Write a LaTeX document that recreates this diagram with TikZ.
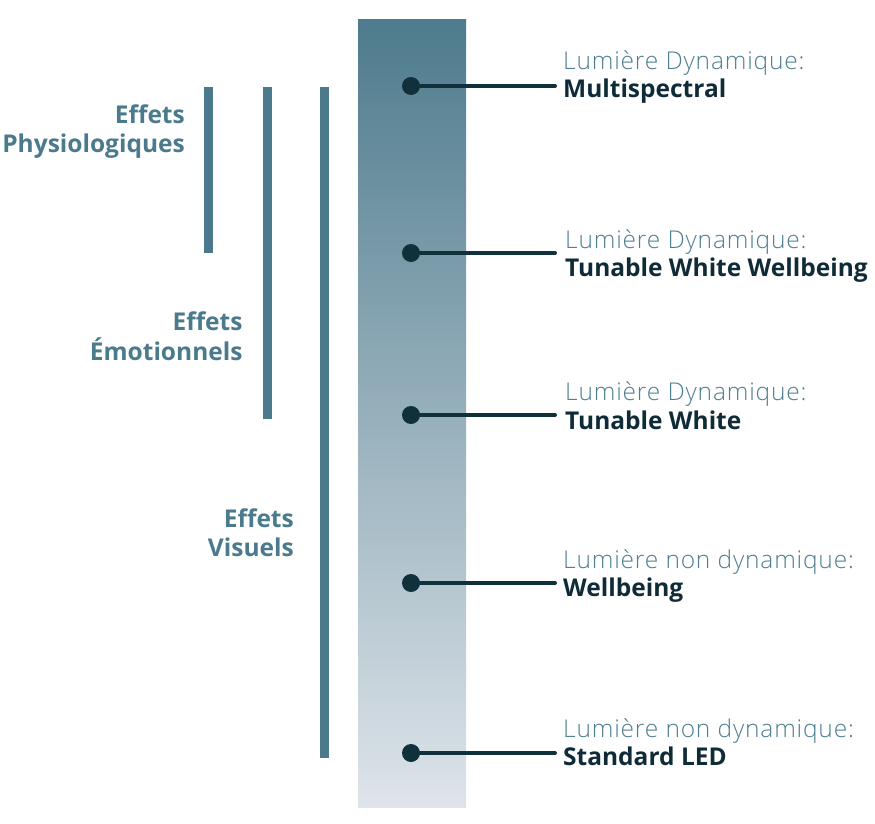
\documentclass[tikz,border=0pt]{standalone}
\usepackage{fontspec}
\setmainfont{Open Sans}
\newfontfamily\kindfont[LetterSpace=3.4]{Open Sans Light}
\definecolor{barblue}{HTML}{4A7A8C}
\definecolor{gradtop}{HTML}{4E7B8D}
\definecolor{gradbot}{HTML}{DEE4EA}
\definecolor{pindark}{HTML}{10303C}
\definecolor{kindcol}{HTML}{4F7F92}
\definecolor{namecol}{HTML}{0F2B37}
\tikzset{
  effbar/.style={fill=barblue},
  pin/.style={circle, fill=pindark, inner sep=0pt, minimum size=18pt},
  pinline/.style={draw=pindark, line width=4pt, line cap=round},
  kindlbl/.style={anchor=base west, inner sep=0pt, text=kindcol,
    font=\kindfont\fontsize{24.5}{28}\selectfont},
  namelbl/.style={anchor=base west, inner sep=0pt, text=namecol,
    font=\fontsize{24.5}{28}\selectfont\bfseries},
  efflbl/.style={anchor=base east, inner sep=0pt, text=barblue,
    font=\fontsize{24.5}{28}\selectfont\bfseries}
}
\begin{document}
\begin{tikzpicture}[x=1pt,y=-1pt]
    \useasboundingbox (0,0) rectangle (875,824);
    % light column
    \shade[top color=gradtop, bottom color=gradbot] (358,20) rectangle (466,807);
    % effect ranges
    \fill[effbar] (204,87) rectangle (213,253);
    \fill[effbar] (263,87) rectangle (272,419);
    \fill[effbar] (320,87) rectangle (329,758);
    \node (ef1) at (185,124) [efflbl] {Effets}; \node (ph1) at (185,152.7)
    [efflbl] {Physiologiques}; \node (ef2) at (242.7,330.7) [efflbl]
    {Effets}; \node (em2) at (242.7,360) [efflbl] {Émotionnels};
    \node (ef3) at (294,527.3) [efflbl] {Effets}; \node (vi3) at
    (294,556.7) [efflbl] {Visuels};
    % pins
    \node (p1) at (411,86) [pin] {}; \coordinate (e1) at (555,86);
    \node (p2) at (411,253) [pin] {}; \coordinate (e2) at (555,253);
    \node (p3) at (411,415) [pin] {}; \coordinate (e3) at (555,415);
    \node (p4) at (411,583) [pin] {}; \coordinate (e4) at (555,583);
    \node (p5) at (411,753) [pin] {}; \coordinate (e5) at (555,753);
    \draw[pinline] (p1) -- (e1); \draw[pinline] (p2) -- (e2);
    \draw[pinline] (p3) -- (e3); \draw[pinline] (p4) -- (e4);
    \draw[pinline] (p5) -- (e5);
    % labels
    \node (k1) at (563,70) [kindlbl] {Lumière Dynamique:};
    \node (n1) at (563,97.7) [namelbl] {Multispectral};
    \node (k2) at (565,248.3) [kindlbl] {Lumière Dynamique:};
    \node (n2) at (565,276.7) [namelbl] {Tunable White Wellbeing};
    \node (k3) at (565,400) [kindlbl] {Lumière Dynamique:};
    \node (n3) at (565,429) [namelbl] {Tunable White};
    \node (k4) at (563,568) [kindlbl] {Lumière non dynamique:};
    \node (n4) at (563,596) [namelbl] {Wellbeing};
    \node (k5) at (563,737) [kindlbl] {Lumière non dynamique:};
    \node (n5) at (563,765.5) [namelbl] {Standard LED};
\end{tikzpicture}
\end{document}
